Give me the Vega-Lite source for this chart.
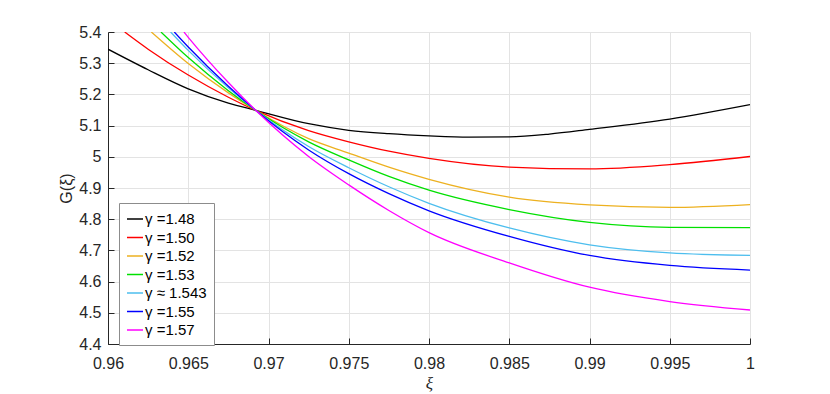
{
  "$schema": "https://vega.github.io/schema/vega-lite/v6.json",
  "width": 642,
  "height": 312,
  "autosize": {"type": "none"},
  "padding": {"left": 108, "top": 32, "right": 80, "bottom": 50},
  "background": "white",
  "config": {
    "view": {"stroke": null},
    "font": "Liberation Sans",
    "axis": {
      "labelFont": "Liberation Sans",
      "labelFontSize": 16,
      "labelColor": "#262626",
      "labelFlush": false,
      "domainColor": "#262626",
      "tickColor": "#262626",
      "gridColor": "#e3e3e3",
      "gridWidth": 1,
      "titleFont": "Liberation Sans",
      "titleFontSize": 16,
      "titleFontWeight": "normal",
      "titleColor": "#262626"
    }
  },
  "data": {
    "values": [
      {"g": "γ =1.48", "x": 0.96, "y": 5.345},
      {"g": "γ =1.48", "x": 0.9625, "y": 5.279},
      {"g": "γ =1.48", "x": 0.965, "y": 5.218},
      {"g": "γ =1.48", "x": 0.9675, "y": 5.172},
      {"g": "γ =1.48", "x": 0.9692, "y": 5.149},
      {"g": "γ =1.48", "x": 0.9725, "y": 5.106},
      {"g": "γ =1.48", "x": 0.975, "y": 5.085},
      {"g": "γ =1.48", "x": 0.9775, "y": 5.074},
      {"g": "γ =1.48", "x": 0.98, "y": 5.067},
      {"g": "γ =1.48", "x": 0.9825, "y": 5.063},
      {"g": "γ =1.48", "x": 0.985, "y": 5.064},
      {"g": "γ =1.48", "x": 0.9875, "y": 5.073},
      {"g": "γ =1.48", "x": 0.99, "y": 5.088},
      {"g": "γ =1.48", "x": 0.995, "y": 5.121},
      {"g": "γ =1.48", "x": 1.0, "y": 5.167},

      {"g": "γ =1.50", "x": 0.96104, "y": 5.4},
      {"g": "γ =1.50", "x": 0.9625, "y": 5.345},
      {"g": "γ =1.50", "x": 0.965, "y": 5.262},
      {"g": "γ =1.50", "x": 0.9675, "y": 5.191},
      {"g": "γ =1.50", "x": 0.9692, "y": 5.149},
      {"g": "γ =1.50", "x": 0.9725, "y": 5.084},
      {"g": "γ =1.50", "x": 0.975, "y": 5.048},
      {"g": "γ =1.50", "x": 0.9775, "y": 5.018},
      {"g": "γ =1.50", "x": 0.98, "y": 4.995},
      {"g": "γ =1.50", "x": 0.985, "y": 4.967},
      {"g": "γ =1.50", "x": 0.99, "y": 4.961},
      {"g": "γ =1.50", "x": 0.995, "y": 4.975},
      {"g": "γ =1.50", "x": 1.0, "y": 5.001},

      {"g": "γ =1.52", "x": 0.9627, "y": 5.4},
      {"g": "γ =1.52", "x": 0.965, "y": 5.299},
      {"g": "γ =1.52", "x": 0.9675, "y": 5.205},
      {"g": "γ =1.52", "x": 0.9692, "y": 5.149},
      {"g": "γ =1.52", "x": 0.9725, "y": 5.058},
      {"g": "γ =1.52", "x": 0.975, "y": 5.012},
      {"g": "γ =1.52", "x": 0.9775, "y": 4.967},
      {"g": "γ =1.52", "x": 0.98, "y": 4.928},
      {"g": "γ =1.52", "x": 0.985, "y": 4.871},
      {"g": "γ =1.52", "x": 0.99, "y": 4.846},
      {"g": "γ =1.52", "x": 0.995, "y": 4.838},
      {"g": "γ =1.52", "x": 1.0, "y": 4.847},

      {"g": "γ =1.53", "x": 0.9633, "y": 5.4},
      {"g": "γ =1.53", "x": 0.965, "y": 5.318},
      {"g": "γ =1.53", "x": 0.9675, "y": 5.212},
      {"g": "γ =1.53", "x": 0.9692, "y": 5.149},
      {"g": "γ =1.53", "x": 0.9725, "y": 5.048},
      {"g": "γ =1.53", "x": 0.975, "y": 4.99},
      {"g": "γ =1.53", "x": 0.9775, "y": 4.937},
      {"g": "γ =1.53", "x": 0.98, "y": 4.893},
      {"g": "γ =1.53", "x": 0.985, "y": 4.831},
      {"g": "γ =1.53", "x": 0.99, "y": 4.79},
      {"g": "γ =1.53", "x": 0.995, "y": 4.774},
      {"g": "γ =1.53", "x": 1.0, "y": 4.773},

      {"g": "γ ≈ 1.543", "x": 0.9639, "y": 5.4},
      {"g": "γ ≈ 1.543", "x": 0.965, "y": 5.341},
      {"g": "γ ≈ 1.543", "x": 0.9675, "y": 5.221},
      {"g": "γ ≈ 1.543", "x": 0.9692, "y": 5.149},
      {"g": "γ ≈ 1.543", "x": 0.9725, "y": 5.033},
      {"g": "γ ≈ 1.543", "x": 0.975, "y": 4.965},
      {"g": "γ ≈ 1.543", "x": 0.9775, "y": 4.904},
      {"g": "γ ≈ 1.543", "x": 0.98, "y": 4.851},
      {"g": "γ ≈ 1.543", "x": 0.985, "y": 4.772},
      {"g": "γ ≈ 1.543", "x": 0.99, "y": 4.718},
      {"g": "γ ≈ 1.543", "x": 0.995, "y": 4.692},
      {"g": "γ ≈ 1.543", "x": 1.0, "y": 4.684},

      {"g": "γ =1.55", "x": 0.96413, "y": 5.4},
      {"g": "γ =1.55", "x": 0.965, "y": 5.352},
      {"g": "γ =1.55", "x": 0.9675, "y": 5.226},
      {"g": "γ =1.55", "x": 0.9692, "y": 5.149},
      {"g": "γ =1.55", "x": 0.9725, "y": 5.022},
      {"g": "γ =1.55", "x": 0.975, "y": 4.946},
      {"g": "γ =1.55", "x": 0.9775, "y": 4.882},
      {"g": "γ =1.55", "x": 0.98, "y": 4.827},
      {"g": "γ =1.55", "x": 0.985, "y": 4.745},
      {"g": "γ =1.55", "x": 0.99, "y": 4.684},
      {"g": "γ =1.55", "x": 0.995, "y": 4.652},
      {"g": "γ =1.55", "x": 1.0, "y": 4.637},

      {"g": "γ =1.57", "x": 0.96473, "y": 5.4},
      {"g": "γ =1.57", "x": 0.965, "y": 5.383},
      {"g": "γ =1.57", "x": 0.9675, "y": 5.238},
      {"g": "γ =1.57", "x": 0.9692, "y": 5.149},
      {"g": "γ =1.57", "x": 0.9725, "y": 5.001},
      {"g": "γ =1.57", "x": 0.975, "y": 4.91},
      {"g": "γ =1.57", "x": 0.9775, "y": 4.828},
      {"g": "γ =1.57", "x": 0.98, "y": 4.757},
      {"g": "γ =1.57", "x": 0.985, "y": 4.66},
      {"g": "γ =1.57", "x": 0.99, "y": 4.582},
      {"g": "γ =1.57", "x": 0.995, "y": 4.536},
      {"g": "γ =1.57", "x": 1.0, "y": 4.509}
    ]
  },
  "mark": {"type": "line", "interpolate": "monotone", "strokeWidth": 1.3, "clip": true},
  "encoding": {
    "x": {
      "field": "x",
      "type": "quantitative",
      "scale": {"domain": [0.96, 1.0], "nice": false, "zero": false},
      "axis": {
        "values": [0.96, 0.965, 0.97, 0.975, 0.98, 0.985, 0.99, 0.995, 1.0],
        "format": "~g",
        "tickSize": -6,
        "labelPadding": 17,
        "title": "ξ",
        "titleFont": "Liberation Serif",
        "titleFontStyle": "italic",
        "titleFontSize": 17,
        "titlePadding": 4
      }
    },
    "y": {
      "field": "y",
      "type": "quantitative",
      "scale": {"domain": [4.4, 5.4], "nice": false, "zero": false},
      "axis": {
        "values": [4.4, 4.5, 4.6, 4.7, 4.8, 4.9, 5.0, 5.1, 5.2, 5.3, 5.4],
        "format": "~g",
        "tickSize": -6,
        "labelPadding": 13,
        "title": "G(ξ)",
        "titlePadding": 4
      }
    },
    "color": {
      "field": "g",
      "type": "nominal",
      "scale": {
        "domain": ["γ =1.48", "γ =1.50", "γ =1.52", "γ =1.53", "γ ≈ 1.543", "γ =1.55", "γ =1.57"],
        "range": ["#000000", "#ff0000", "#edb120", "#00e000", "#4dbeee", "#0000ff", "#ff00ff"]
      },
      "legend": {
        "title": null,
        "orient": "none",
        "legendX": 11,
        "legendY": 171,
        "symbolType": "stroke",
        "symbolSize": 256,
        "symbolStrokeWidth": 1.5,
        "labelFontSize": 15,
        "labelFont": "Liberation Sans",
        "labelColor": "#000000",
        "labelOffset": 1,
        "rowPadding": 1.5,
        "padding": 7,
        "strokeColor": "#8c8c8c",
        "fillColor": "white"
      }
    }
  }
}
